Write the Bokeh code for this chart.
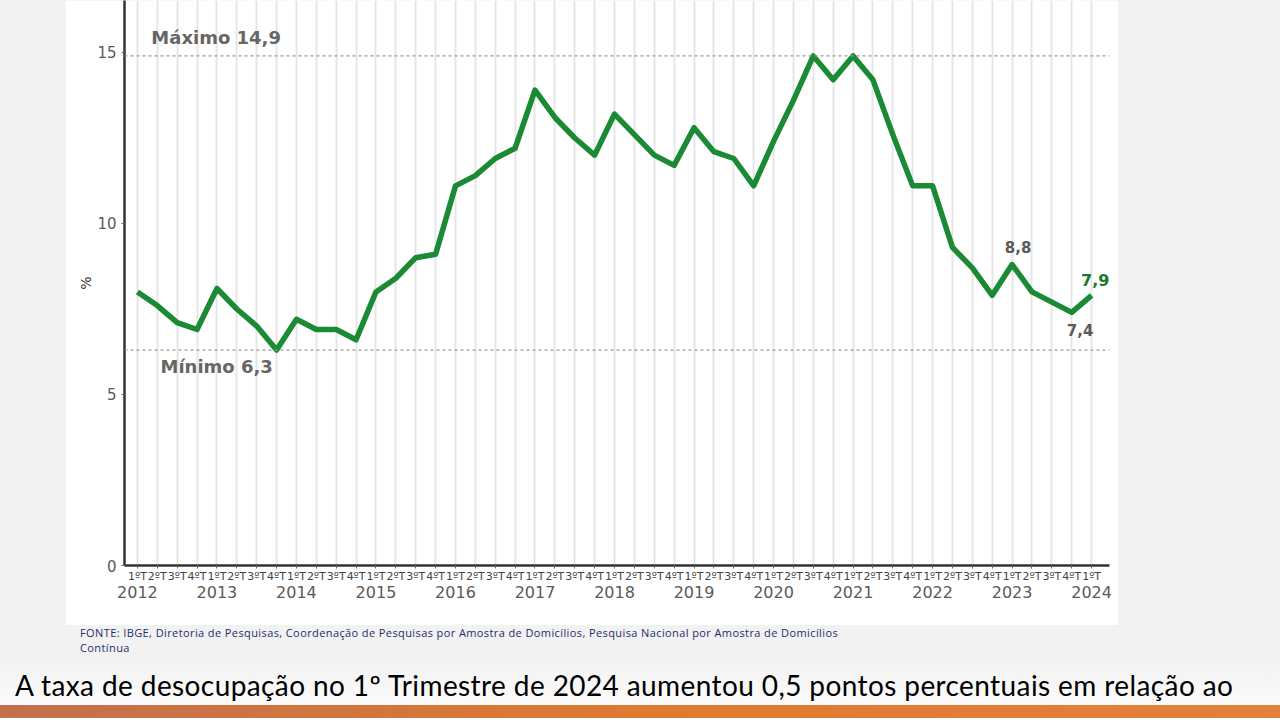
from bokeh.plotting import figure
from bokeh.models import Range1d, FixedTicker, LinearAxis, Span, Div, Spacer, Label
from bokeh.layouts import column, row
from bokeh.embed import file_html
from bokeh.resources import INLINE

# ---- data ----
years = [2012, 2013, 2014, 2015, 2016, 2017, 2018, 2019, 2020, 2021, 2022, 2023, 2024]
quarters = ["1ºT", "2ºT", "3ºT", "4ºT"]
rate = [8.0, 7.6, 7.1, 6.9,
        8.1, 7.5, 7.0, 6.3,
        7.2, 6.9, 6.9, 6.6,
        8.0, 8.4, 9.0, 9.1,
        11.1, 11.4, 11.9, 12.2,
        13.9, 13.1, 12.5, 12.0,
        13.2, 12.6, 12.0, 11.7,
        12.8, 12.1, 11.9, 11.1,
        12.4, 13.6, 14.9, 14.2,
        14.9, 14.2, 12.6, 11.1,
        11.1, 9.3, 8.7, 7.9,
        8.8, 8.0, 7.7, 7.4,
        7.9]
y_ticks = [0, 5, 10, 15]
max_text = "Máximo 14,9"
min_text = "Mínimo 6,3"
source_text = ("FONTE: IBGE, Diretoria de Pesquisas, Coordenação de Pesquisas por Amostra de Domicílios, "
               "Pesquisa Nacional por Amostra de Domicílios<br>Contínua")
headline = "A taxa de desocupação no 1º Trimestre de 2024 aumentou 0,5 pontos percentuais em relação ao"

x_idx = list(range(len(rate)))
q_labels = {i: quarters[i % 4] for i in x_idx}
year_ticks = [i for i in x_idx if i % 4 == 0]
year_labels = {i: str(years[i // 4]) for i in year_ticks}

FONT = "DejaVu Sans"
GREEN = "#1b8a34"
GRAY_T = "#5a5a5a"

p = figure(width=1053, height=625, x_range=Range1d(-0.65, 48.9), y_range=Range1d(0, 16.52),
           output_backend="svg", toolbar_location=None,
           min_border_left=59, min_border_right=9, min_border_top=0, min_border_bottom=60,
           background_fill_color="white", border_fill_color="white", outline_line_color=None)

# x axis (quarters)
xa = p.xaxis[0]
xa.ticker = FixedTicker(ticks=x_idx)
xa.major_label_overrides = q_labels
xa.axis_line_color = "#333333"
xa.axis_line_width = 2.5
xa.major_tick_line_color = "#666666"
xa.major_tick_out = 3
xa.major_tick_in = 0
xa.minor_tick_line_color = None
xa.major_label_text_font = FONT
xa.major_label_text_font_size = "11px"
xa.major_label_text_color = "#444444"
xa.major_label_standoff = 1

# year axis
ya2 = LinearAxis(ticker=FixedTicker(ticks=year_ticks), major_label_overrides=year_labels,
                 axis_line_color=None, major_tick_line_color=None, minor_tick_line_color=None,
                 major_label_text_font=FONT, major_label_text_font_size="16px",
                 major_label_text_color=GRAY_T, major_label_standoff=-6)
p.add_layout(ya2, "below")

# y axis
ya = p.yaxis[0]
ya.ticker = FixedTicker(ticks=y_ticks)
ya.axis_line_color = "#333333"
ya.axis_line_width = 2.5
ya.major_tick_line_color = "#666666"
ya.major_tick_out = 3
ya.major_tick_in = 0
ya.minor_tick_line_color = None
ya.major_label_text_font = FONT
ya.major_label_text_font_size = "15px"
ya.major_label_text_color = GRAY_T
ya.axis_label = "%"
ya.axis_label_standoff = 0
ya.axis_label_text_font = FONT
ya.axis_label_text_font_size = "14px"
ya.axis_label_text_font_style = "normal"
ya.axis_label_text_color = "#333333"

# grids
p.xgrid.ticker = FixedTicker(ticks=x_idx)
p.xgrid.grid_line_color = "#e6e6e6"
p.xgrid.grid_line_width = 2
p.ygrid.visible = False

vmax = max(rate)
vmin = min(rate)
p.add_layout(Span(location=vmax, dimension="width", line_color="#9a9a9a", line_dash="3 3", line_width=1.2))
p.add_layout(Span(location=vmin, dimension="width", line_color="#9a9a9a", line_dash="3 3", line_width=1.2))

p.line(x_idx, rate, line_color=GREEN, line_width=5.5, line_join="round")

def lab(x, y, text, color=GRAY_T, size="15px", align="center"):
    p.add_layout(Label(x=x, y=y, text=text, text_font=FONT, text_font_size=size,
                       text_font_style="bold", text_color=color, text_align=align,
                       text_baseline="middle"))

lab(0.7, vmax + 0.55, max_text, color="#666666", size="18px", align="left")
lab(1.16, vmin - 0.48, min_text, color="#666666", size="18px", align="left")
lab(x_idx[44] + 0.3, rate[44] + 0.5, "8,8")
lab(x_idx[48] + 0.18, rate[48] + 0.46, "7,9", color="#177a2d", size="16px")
lab(x_idx[47] + 0.42, rate[47] - 0.5, "7,4")

bottom_html = (
    '<div style="width:1280px; height:93px; overflow:hidden; margin:0; padding:0">'
    '<div style="height:35px; overflow:hidden; padding-left:80px; font-family:\'Open Sans\'; '
    'font-size:11px; letter-spacing:0.4px; line-height:15px; color:#1f2d6b; white-space:nowrap">'
    + source_text + '</div>'
    '<div style="height:45px; background:linear-gradient(#f2f2f2, #fbfbfb); '
    'box-sizing:border-box; padding:7px 0 0 15px; font-family:Lato; font-size:28px; letter-spacing:0.4px; '
    'line-height:36px; color:#000; white-space:nowrap">' + headline + '</div>'
    '<div style="height:13px; background:linear-gradient(to right, #c2704d, #df7a32 50%, #e3803a)"></div>'
    '</div>'
)
bottom = Div(width=1280, height=93, text=bottom_html, styles={"margin": "0", "padding": "0"})

layout = column(row(Spacer(width=65, height=625), p, Spacer(width=162, height=625)),
                bottom, styles={"background-color": "#f2f2f2"})

open("out.html", "w").write(file_html(layout, INLINE))
